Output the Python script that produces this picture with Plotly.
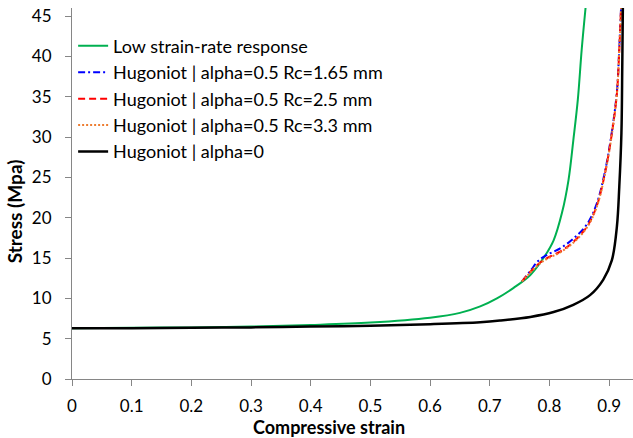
import plotly.graph_objects as go

# Low strain-rate response
low_strain = [0, 0.1, 0.2, 0.3, 0.4, 0.5, 0.6, 0.65, 0.684, 0.712, 0.740, 0.768, 0.790, 0.807, 0.821, 0.832, 0.840, 0.8475, 0.854, 0.8605]
low_stress = [6.3, 6.35, 6.4, 6.5, 6.7, 7.0, 7.6, 8.2, 9.0, 10.0, 11.3, 12.9, 15.0, 17.2, 20.6, 24.7, 29.6, 34.6, 40.8, 46]

# Hugoniot alpha=0.5, Rc=1.65 mm
h165_strain = [0.754, 0.768, 0.782, 0.796, 0.818, 0.840, 0.863, 0.879, 0.893, 0.9045, 0.913, 0.917, 0.920]
h165_stress = [12.1, 13.4, 14.7, 15.4, 16.2, 17.4, 19.2, 21.7, 25.7, 30.6, 35.6, 41.0, 46]

# Hugoniot alpha=0.5, Rc=2.5 mm
h25_strain = [0.754, 0.768, 0.782, 0.796, 0.818, 0.840, 0.863, 0.879, 0.893, 0.9045, 0.913, 0.917, 0.920]
h25_stress = [12.1, 13.3, 14.3, 15.0, 15.8, 17.0, 18.9, 21.4, 25.5, 30.4, 35.4, 40.8, 46]

# Hugoniot alpha=0.5, Rc=3.3 mm
h33_strain = [0.754, 0.768, 0.782, 0.796, 0.818, 0.840, 0.863, 0.879, 0.893, 0.9045, 0.913, 0.917, 0.920]
h33_stress = [12.1, 13.2, 14.2, 14.9, 15.7, 16.9, 18.8, 21.3, 25.4, 30.3, 35.3, 40.7, 46]

# Hugoniot alpha=0
h0_strain = [0, 0.1, 0.2, 0.3, 0.4, 0.5, 0.6, 0.684, 0.717, 0.768, 0.807, 0.840, 0.868, 0.890, 0.9045, 0.913, 0.917, 0.9206, 0.922, 0.923]
h0_stress = [6.3, 6.3, 6.35, 6.4, 6.5, 6.6, 6.8, 7.05, 7.25, 7.7, 8.3, 9.2, 10.4, 12.3, 14.7, 18.9, 23.8, 30.5, 38.7, 46]

x_ticks = [0, 0.1, 0.2, 0.3, 0.4, 0.5, 0.6, 0.7, 0.8, 0.9]
y_ticks = [0, 5, 10, 15, 20, 25, 30, 35, 40, 45]

FONT = "Lato"
SM = 1.0

fig = go.Figure()
fig.add_trace(go.Scatter(x=low_strain, y=low_stress, mode="lines", name="Low strain-rate response",
                         line=dict(color="#00B050", width=2, shape="spline", smoothing=SM)))
fig.add_trace(go.Scatter(x=h165_strain, y=h165_stress, mode="lines", name="Hugoniot | alpha=0.5 Rc=1.65 mm",
                         line=dict(color="#0000FF", width=2, dash="7px,3px,2px,3px", shape="spline", smoothing=SM)))
fig.add_trace(go.Scatter(x=h25_strain, y=h25_stress, mode="lines", name="Hugoniot | alpha=0.5 Rc=2.5 mm",
                         line=dict(color="#FF0000", width=2, dash="7px,4px", shape="spline", smoothing=SM)))
fig.add_trace(go.Scatter(x=h33_strain, y=h33_stress, mode="lines", name="Hugoniot | alpha=0.5 Rc=3.3 mm",
                         line=dict(color="#ED7D31", width=2, dash="2px,2px", shape="spline", smoothing=SM)))
fig.add_trace(go.Scatter(x=h0_strain, y=h0_stress, mode="lines", name="Hugoniot | alpha=0",
                         line=dict(color="#000000", width=2.5, shape="spline", smoothing=SM)))

axis_common = dict(showgrid=False, zeroline=False, showline=True, linecolor="#868686", linewidth=1,
                   ticks="outside", ticklen=6, tickcolor="#868686",
                   tickfont=dict(family=FONT, size=17, color="#000"))

fig.update_layout(
    width=633, height=438,
    margin=dict(l=72, r=0, t=8, b=59),
    paper_bgcolor="white", plot_bgcolor="white",
    font=dict(family=FONT, size=17, color="#000"),
    xaxis=dict(range=[0, 0.94], tickvals=x_ticks, ticktext=[str(v) for v in x_ticks],
               ticklabelstandoff=6, **axis_common),
    yaxis=dict(range=[0, 46], tickvals=y_ticks, ticktext=[str(v) for v in y_ticks],
               ticklabelstandoff=10, **axis_common),
    legend=dict(x=0.002, y=0.947, xanchor="left", yanchor="top", bgcolor="rgba(0,0,0,0)",
                font=dict(family=FONT, size=18), itemwidth=30, tracegroupgap=0),
    showlegend=True,
    annotations=[
        dict(text="<b>Compressive strain</b>", xref="paper", yref="paper", x=0.4576, y=-0.129,
             xanchor="center", yanchor="middle", showarrow=False, font=dict(family=FONT, size=18)),
        dict(text="<b>Stress (Mpa)</b>", xref="paper", yref="paper", x=-0.102, y=0.4515,
             xanchor="center", yanchor="middle", showarrow=False, textangle=-90,
             font=dict(family=FONT, size=19)),
    ],
)

fig.write_html("out.html")
